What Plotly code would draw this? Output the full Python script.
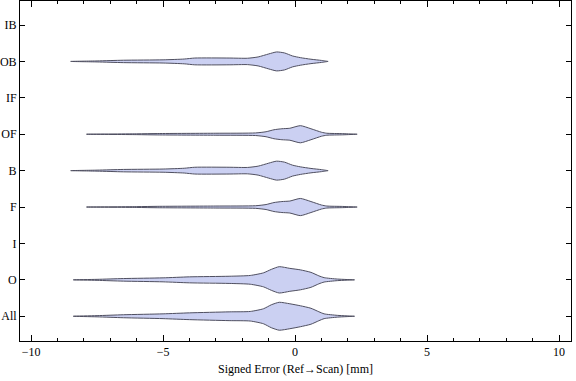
import plotly.graph_objects as go

categories = ["All", "O", "I", "F", "B", "OF", "IF", "OB", "IB"]

# Density profiles (x in mm, relative density)
ob_x = [-8.5, -7.5, -6.5, -5.0, -4.2, -3.8, -2.5, -1.8, -1.4, -1.0, -0.7, -0.4, -0.1, 0.2, 0.6, 1.0, 1.25]
ob_d = [0.0, 0.5, 1.2, 1.6, 2.4, 3.4, 3.4, 3.2, 4.5, 7.5, 9.5, 8.5, 5.5, 3.8, 2.2, 1.0, 0.0]

of_x = [-7.9, -6.0, -5.2, -3.0, -1.5, -1.1, -0.8, -0.5, -0.2, 0.2, 0.6, 1.0, 1.2, 1.8, 2.35]
of_d = [0.0, 0.4, 0.7, 1.0, 1.3, 2.5, 4.5, 5.5, 6.0, 8.6, 5.5, 2.0, 1.0, 0.6, 0.0]

o_x = [-8.4, -7.5, -6.5, -5.0, -4.0, -2.5, -1.7, -1.2, -0.9, -0.6, -0.2, 0.2, 0.6, 0.9, 1.1, 1.6, 2.25]
o_d = [0.0, 0.5, 1.3, 2.0, 3.0, 3.6, 4.4, 7.0, 10.5, 13.2, 11.5, 10.0, 7.5, 4.0, 2.2, 0.8, 0.0]

all_x = [-8.4, -7.5, -6.5, -5.0, -4.0, -2.5, -1.7, -1.2, -0.9, -0.6, -0.2, 0.2, 0.6, 0.9, 1.1, 1.6, 2.25]
all_d = [0.0, 0.6, 1.5, 2.4, 3.4, 4.4, 4.8, 7.5, 11.5, 14.0, 12.5, 10.5, 8.0, 4.5, 2.4, 0.9, 0.0]

profiles = {
    "All": (all_x, all_d),
    "O": (o_x, o_d),
    "F": (of_x, of_d),
    "B": (ob_x, ob_d),
    "OF": (of_x, of_d),
    "OB": (ob_x, ob_d),
}

x_ticks = [-10, -5, 0, 5, 10]
density_scale = 1 / 36.5

fig = go.Figure()
for i, cat in enumerate(categories):
    if cat not in profiles:
        continue
    xs, ds = profiles[cat]
    pos = i + 1
    upper = [pos + d * density_scale for d in ds]
    lower = [pos - d * density_scale for d in ds]
    fig.add_trace(go.Scatter(
        x=list(xs) + list(xs[::-1]),
        y=upper + lower[::-1],
        mode="lines",
        fill="toself",
        fillcolor="#CBD0F2",
        line=dict(color="#4f4f60", width=1, shape="spline", smoothing=0.6),
        hoverinfo="skip",
        showlegend=False,
    ))

font_family = "Liberation Serif, Times New Roman, serif"
fig.update_layout(
    width=576, height=381,
    margin=dict(l=20, r=5, t=1, b=40, autoexpand=False),
    paper_bgcolor="white", plot_bgcolor="white",
    font=dict(family=font_family, size=12, color="black"),
    showlegend=False,
    xaxis=dict(
        range=[-10.42, 10.45],
        automargin=False,
        tickvals=x_ticks,
        ticks="inside", ticklen=6, tickcolor="black", tickwidth=1,
        minor=dict(dtick=1, tick0=0, ticks="inside", ticklen=3, tickcolor="black"),
        showline=True, linecolor="black", linewidth=1, mirror="ticks",
        showgrid=False, zeroline=False,
        title=dict(text="Signed Error (Ref\u2192Scan) [mm]", font=dict(size=12), standoff=6),
        tickfont=dict(size=12),
    ),
    yaxis=dict(
        range=[0.32, 9.66],
        automargin=False,
        tickvals=list(range(1, len(categories) + 1)),
        ticktext=categories,
        ticks="inside", ticklen=5, tickcolor="black",
        showline=True, linecolor="black", linewidth=1, mirror="ticks",
        showgrid=False, zeroline=False,
        tickfont=dict(size=12),
    ),
)

fig.write_html(
    "out.html",
    config={"displayModeBar": False},
    post_script="document.body.style.margin='0px';document.body.style.overflow='hidden';",
)
